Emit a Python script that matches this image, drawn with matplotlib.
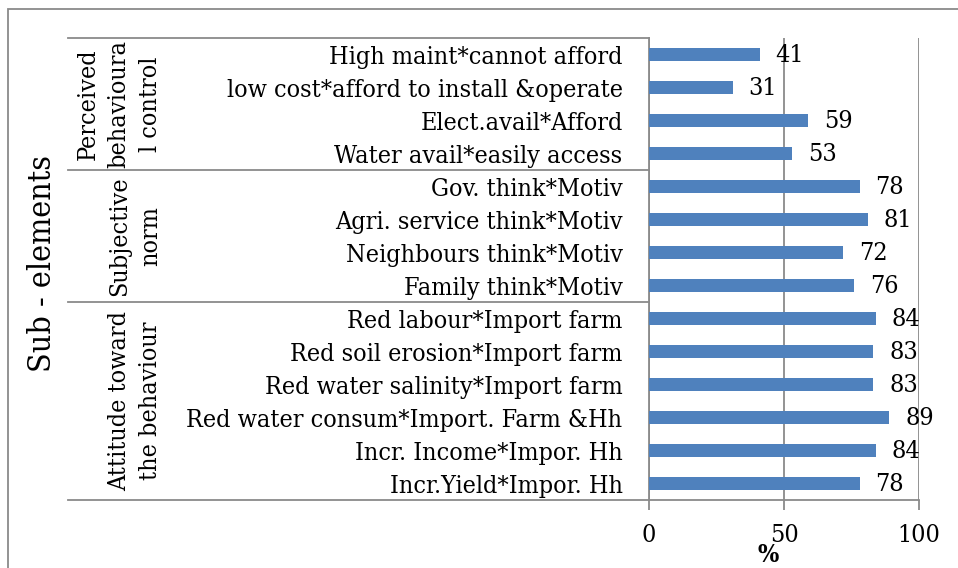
import matplotlib
matplotlib.use("Agg")
import matplotlib.pyplot as plt
import matplotlib.transforms as mtransforms
from matplotlib.patches import Rectangle
import numpy as np

plt.rcParams["font.family"] = ["DejaVu Serif"]
plt.rcParams["font.stretch"] = "condensed"

# Sub-elements, listed top to bottom
categories = [
    "High maint*cannot afford",
    "low cost*afford to install &operate",
    "Elect.avail*Afford",
    "Water avail*easily access",
    "Gov. think*Motiv",
    "Agri. service think*Motiv",
    "Neighbours think*Motiv",
    "Family think*Motiv",
    "Red labour*Import farm",
    "Red soil erosion*Import farm",
    "Red water salinity*Import farm",
    "Red water consum*Import. Farm &Hh",
    "Incr. Income*Impor. Hh",
    "Incr.Yield*Impor. Hh",
]
values = [41, 31, 59, 53, 78, 81, 72, 76, 84, 83, 83, 89, 84, 78]

# Groups: label and number of sub-elements in each
group_labels = [
    "Perceived\nbehavioura\nl control",
    "Subjective\nnorm",
    "Attitude toward\nthe behaviour",
]
group_sizes = [4, 4, 6]

x_ticks = [0, 50, 100]

W, H = 958, 568
fig = plt.figure(figsize=(W / 100, H / 100), dpi=100)

grey = "#8a8a8a"
bar_color = "#4F81BD"

# outer chart frame
fig.patches.append(Rectangle((8 / W, -0.1), 1.2, 1 - 9 / H + 0.1,
                             transform=fig.transFigure, fill=False,
                             edgecolor=grey, linewidth=1.3))

ax = fig.add_axes([649 / W, 1 - 500 / H, 270 / W, 462 / H])
y = np.arange(len(categories))
ax.barh(y, values, height=0.4, color=bar_color, zorder=3)
ax.set_ylim(len(categories) - 0.5, -0.5)
ax.set_xlim(0, 100)

ax.set_yticks(y)
ax.set_yticklabels(categories, fontsize=18)
ax.tick_params(axis="y", length=0, pad=19)
ax.set_xticks(x_ticks)
ax.set_xticklabels([str(t) for t in x_ticks], fontsize=18)
ax.tick_params(axis="x", length=7, width=1.3, color=grey, pad=10)

for side in ["top", "right"]:
    ax.spines[side].set_visible(False)
for side in ["left", "bottom"]:
    ax.spines[side].set_color(grey)
    ax.spines[side].set_linewidth(1.3)
ax.xaxis.grid(True, color=grey, linewidth=1.3, zorder=0)

for yi, v in zip(y, values):
    ax.annotate(str(v), xy=(v, yi), xytext=(16, -1), textcoords="offset pixels",
                ha="left", va="center", fontsize=18, zorder=4)

# group boundaries of the multi-level category axis
blend = mtransforms.blended_transform_factory(ax.transAxes, ax.transData)
x_left = (68 - 649) / 270
bounds = np.concatenate([[0], np.cumsum(group_sizes)]) - 0.5
for b in bounds:
    ax.plot([x_left, 0], [b, b], transform=blend, color=grey,
            linewidth=1.3, clip_on=False)

fig_blend = mtransforms.blended_transform_factory(fig.transFigure, ax.transData)
group_x = [119 / W, 135 / W, 135 / W]
for lbl, gx, b0, b1 in zip(group_labels, group_x, bounds[:-1], bounds[1:]):
    fig.text(gx, (b0 + b1) / 2, lbl, transform=fig_blend, rotation=90,
             ha="center", va="center", multialignment="center",
             fontsize=18, linespacing=1.45)

fig.text(43 / W, 1 - 264 / H, "Sub - elements", rotation=90, ha="center",
         va="center", fontsize=23)
fig.text(768 / W, 1 - 555 / H, "%", ha="center", va="center",
         fontsize=18, fontweight="bold")

fig.savefig("out.png", dpi=100)
